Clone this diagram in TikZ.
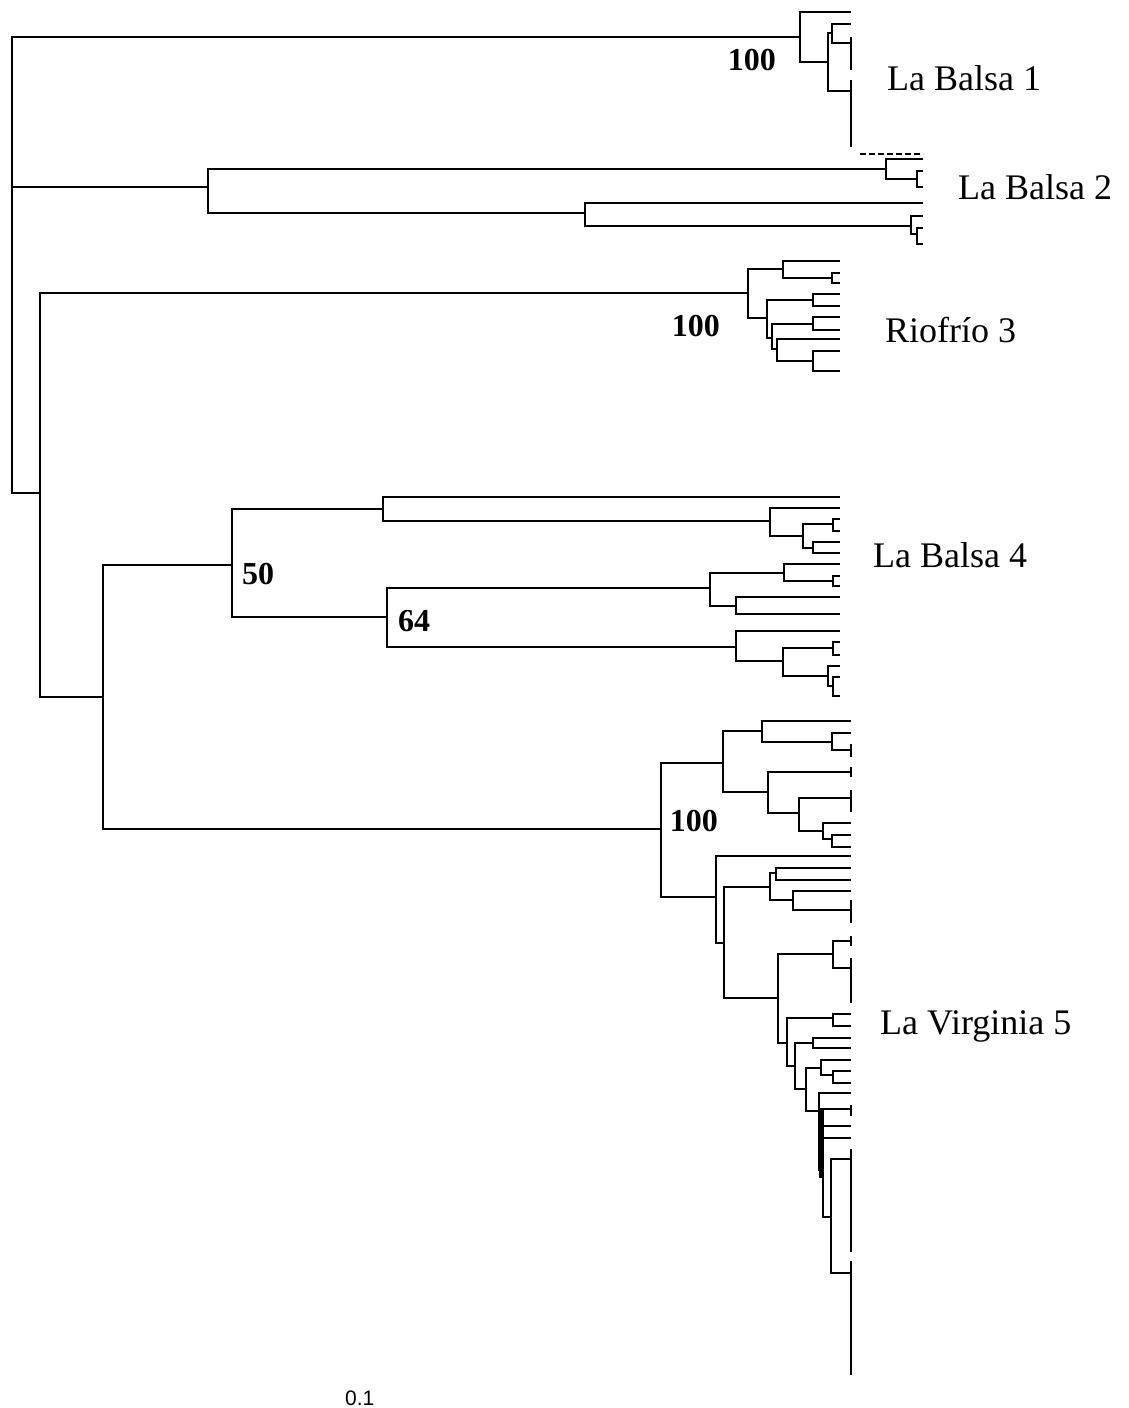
\documentclass[tikz,border=0pt]{standalone}
\usepackage{fontspec}
\setmainfont{Liberation Serif}
\newfontfamily\sansf{Liberation Sans}
\tikzset{
  branch/.style={line width=1.3pt,line join=miter},
  clade/.style={font=\fontsize{36}{40}\selectfont,anchor=base west,inner sep=0pt},
  boot/.style={font=\bfseries\fontsize{32}{36}\selectfont,inner sep=0pt},
  scalelab/.style={font=\sansf\fontsize{21}{24}\selectfont,anchor=base west,inner sep=0pt}
}
\newcommand\kid[4]{\coordinate (#2) at (#3,#4); \draw[branch] (#1) |- (#2);}
\newcommand\coll[3]{\draw[branch] (#1,#2) -- (#1,#3);}
\begin{document}
\begin{tikzpicture}[x=1pt,y=-1pt]
\useasboundingbox (0,0) rectangle (1129,1408);
\coordinate (R) at (12,265);
% ---- La Balsa 1
\kid{R}{A1}{800}{37}
\kid{A1}{a1}{851}{12}
\kid{A1}{A2}{828}{62}
\kid{A2}{A3}{832}{33}
\kid{A3}{a2}{851}{24}
\kid{A3}{a3}{851}{43}
\kid{A2}{a4}{851}{91}
\coll{851}{37}{70}
\coll{851}{80}{147}
% ---- La Balsa 2
\kid{R}{B1}{208}{187}
\kid{B1}{B2}{886}{169}
\kid{B2}{b1}{923}{159}
\kid{B2}{B4}{917}{179}
\kid{B4}{b2}{923}{171}
\kid{B4}{b3}{923}{187}
\kid{B1}{B3}{585}{213}
\kid{B3}{b4}{923}{203}
\kid{B3}{B5}{911}{226}
\kid{B5}{b5}{923}{216}
\kid{B5}{B6}{917}{234}
\kid{B6}{b6}{923}{228}
\kid{B6}{b7}{923}{244}
\draw[branch,dashed,dash pattern=on 6pt off 3pt] (860,154) -- (923,154);
% ---- Riofrio 3
\kid{R}{C0}{40}{493}
\kid{C0}{C1}{748}{293}
\kid{C1}{C2}{783}{269}
\kid{C2}{c1}{840}{261}
\kid{C2}{C4}{832}{278}
\kid{C4}{c2}{840}{273}
\kid{C4}{c3}{840}{283}
\kid{C1}{C3}{767}{318}
\kid{C3}{C5}{813}{300}
\kid{C5}{c4}{840}{294}
\kid{C5}{c5}{840}{306}
\kid{C3}{C6}{772}{338}
\kid{C6}{C7}{813}{324}
\kid{C7}{c6}{840}{317}
\kid{C7}{c7}{840}{330}
\kid{C6}{C8}{777}{349}
\kid{C8}{c8}{840}{339}
\kid{C8}{C9}{813}{361}
\kid{C9}{c9}{840}{351}
\kid{C9}{c10}{840}{371}
% ---- La Balsa 4
\kid{C0}{D0}{103}{697}
\kid{D0}{E1}{232}{565}
\kid{E1}{E2}{383}{509}
\kid{E2}{e1}{840}{497}
\kid{E2}{E4}{770}{521}
\kid{E4}{e2}{840}{508}
\kid{E4}{E5}{803}{536}
\kid{E5}{E6}{833}{524}
\kid{E6}{e3}{840}{519}
\kid{E6}{e4}{840}{531}
\kid{E5}{E7}{813}{548}
\kid{E7}{e5}{840}{542}
\kid{E7}{e6}{840}{553}
\kid{E1}{E3}{387}{617}
\kid{E3}{E8}{710}{588}
\kid{E8}{E10}{784}{573}
\kid{E10}{e7}{840}{564}
\kid{E10}{E12}{833}{581}
\kid{E12}{e8}{840}{576}
\kid{E12}{e9}{840}{586}
\kid{E8}{E11}{736}{606}
\kid{E11}{e10}{840}{597}
\kid{E11}{e11}{840}{614}
\kid{E3}{E9}{736}{647}
\kid{E9}{e12}{840}{631}
\kid{E9}{E13}{783}{661}
\kid{E13}{E14}{833}{648}
\kid{E14}{e13}{840}{642}
\kid{E14}{e14}{840}{655}
\kid{E13}{E15}{828}{676}
\kid{E15}{e15}{840}{666}
\kid{E15}{E16}{833}{686}
\kid{E16}{e16}{840}{677}
\kid{E16}{e17}{840}{696}
% ---- La Virginia 5
\kid{D0}{F1}{661}{829}
\kid{F1}{F2}{723}{763}
\kid{F2}{F4}{762}{731}
\kid{F4}{f1}{851}{721}
\kid{F4}{F6}{832}{742}
\kid{F6}{f2}{851}{733}
\kid{F6}{f3}{851}{750}
\coll{851}{744}{757}
\kid{F2}{F5}{768}{792}
\kid{F5}{f4}{851}{772}
\coll{851}{767}{777}
\kid{F5}{F7}{799}{813}
\kid{F7}{f5}{851}{798}
\coll{851}{790}{812}
\kid{F7}{F8}{823}{831}
\kid{F8}{f6}{851}{823}
\kid{F8}{F9}{832}{839}
\kid{F9}{f7}{851}{835}
\kid{F9}{f8}{851}{847}
\kid{F1}{F3}{716}{897}
\kid{F3}{f9}{851}{856}
\kid{F3}{F10}{724}{943}
\kid{F10}{F11}{770}{887}
\kid{F11}{F13}{776}{873}
\kid{F13}{f10}{851}{868}
\kid{F13}{f11}{851}{880}
\kid{F11}{F14}{793}{900}
\kid{F14}{f12}{851}{891}
\kid{F14}{f13}{851}{910}
\coll{851}{900}{923}
\kid{F10}{F12}{778}{998}
\kid{F12}{F15}{833}{954}
\kid{F15}{f14}{851}{941}
\coll{851}{936}{946}
\kid{F15}{f15}{851}{968}
\coll{851}{958}{1003}
\kid{F12}{F16}{787}{1043}
\kid{F16}{F17}{833}{1018}
\kid{F17}{f16}{851}{1014}
\kid{F17}{f17}{851}{1026}
\kid{F16}{F18}{795}{1066}
\kid{F18}{F19}{813}{1043}
\kid{F19}{f18}{851}{1038}
\kid{F19}{f19}{851}{1048}
\kid{F18}{F20}{806}{1089}
\kid{F20}{F21}{821}{1068}
\kid{F21}{f20}{851}{1060}
\kid{F21}{F23}{833}{1075}
\kid{F23}{f21}{851}{1071}
\kid{F23}{f22}{851}{1083}
\kid{F20}{F22}{819}{1111}
\kid{F22}{f23}{851}{1093}
\kid{F22}{f24}{851}{1109}
\coll{851}{1105}{1116}
\kid{F22}{f25}{851}{1126}
\kid{F22}{F25}{823}{1170}
\kid{F25}{f26}{851}{1138}
\kid{F25}{F24}{831}{1217}
\fill (819,1108) rectangle (823.6,1178);
\kid{F24}{f27}{851}{1159}
\coll{851}{1149}{1252}
\kid{F24}{f28}{851}{1273}
\coll{851}{1261}{1375}
% ---- labels
\node[boot,anchor=east] (s1) at (776,60) {100};
\node[boot,anchor=east] (s2) at (720,326) {100};
\node[boot] (s3) at (258,574) {50};
\node[boot] (s4) at (414,621) {64};
\node[boot,anchor=east] (s5) at (718,821) {100};
\node[clade] (t1) at (887,90) {La Balsa 1};
\node[clade] (t2) at (958,199) {La Balsa 2};
\node[clade] (t3) at (885,342) {Riofrío 3};
\node[clade] (t4) at (873,567) {La Balsa 4};
\node[clade] (t5) at (880,1034) {La Virginia 5};
\node[scalelab] (sc) at (345,1405) {0.1};
\end{tikzpicture}
\end{document}
